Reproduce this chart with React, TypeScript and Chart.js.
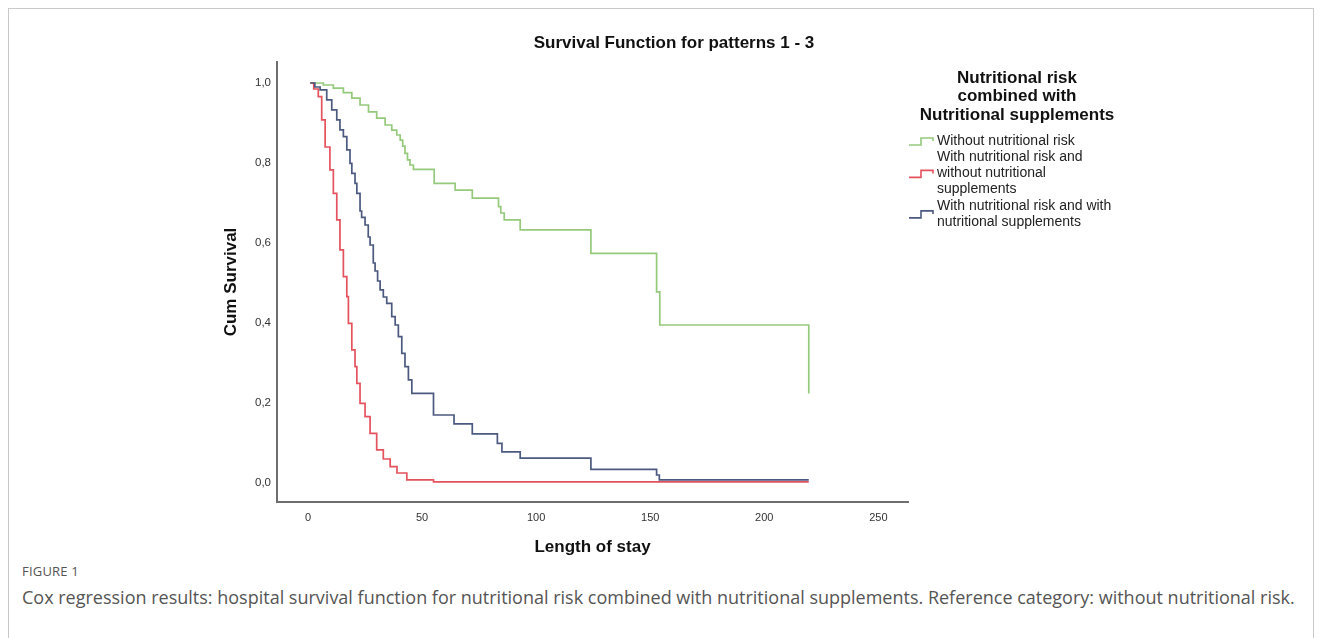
import React, { useEffect, useRef } from 'react';
import { Chart, registerables } from 'chart.js';

Chart.register(...registerables);

// ---------- text ----------
const chartTitle = 'Survival Function for patterns 1 - 3';
const legendTitle = ['Nutritional risk', 'combined with', 'Nutritional supplements'];
const seriesLabels = [
  ['Without nutritional risk'],
  ['With nutritional risk and', 'without nutritional', 'supplements'],
  ['With nutritional risk and with', 'nutritional supplements'],
];
const xAxisTitle = 'Length of stay';
const yAxisTitle = 'Cum Survival';
const figureLabel = 'FIGURE 1';
const captionText =
  'Cox regression results: hospital survival function for nutritional risk combined with nutritional supplements. Reference category: without nutritional risk.';

// ---------- ticks ----------
const xTicks = [0, 50, 100, 150, 200, 250];
const yTicks = [0, 0.2, 0.4, 0.6, 0.8, 1.0];

// ---------- series (time, cumulative survival after the step) ----------
const greenTime = [1, 6.7, 11.1, 15.5, 19.2, 22.8, 26.5, 30.1, 33.8, 36.7, 38.9, 40.4, 41.5, 42.5, 43.6, 44.7, 46.2, 55.3, 64.5, 72, 83.5, 84.5, 86, 93, 124, 152.8, 154.2, 219.5];
const greenSurv = [1, 0.995, 0.987, 0.976, 0.962, 0.945, 0.928, 0.912, 0.895, 0.882, 0.87, 0.857, 0.842, 0.824, 0.808, 0.795, 0.784, 0.749, 0.732, 0.712, 0.691, 0.675, 0.658, 0.633, 0.574, 0.478, 0.395, 0.224];

const redTime = [1, 2.5, 4.5, 6, 7.5, 9.6, 11.1, 12.6, 14, 15.5, 17, 17.7, 19.2, 20.6, 21.4, 22.8, 25, 27.2, 30.1, 33, 36, 39, 43.3, 55, 219.5];
const redSurv = [1, 0.985, 0.966, 0.908, 0.84, 0.783, 0.724, 0.658, 0.583, 0.516, 0.466, 0.399, 0.333, 0.291, 0.249, 0.199, 0.166, 0.124, 0.083, 0.06, 0.041, 0.025, 0.008, 0.003, 0.003];

const blueTime = [1, 3, 5.3, 8.2, 10.4, 12.6, 14, 15.5, 17, 18.4, 19.2, 20.6, 21.4, 22.8, 23.5, 25, 26.4, 27.2, 28.6, 29.4, 30.5, 31.6, 33, 34.5, 36.7, 38.2, 39.6, 41.1, 42.5, 44, 45.5, 55, 64, 72, 83, 85, 93, 124, 152.8, 154, 219.5];
const blueSurv = [1, 0.99, 0.983, 0.958, 0.933, 0.908, 0.883, 0.866, 0.833, 0.799, 0.774, 0.749, 0.724, 0.68, 0.664, 0.645, 0.615, 0.595, 0.55, 0.53, 0.505, 0.483, 0.465, 0.449, 0.416, 0.395, 0.366, 0.324, 0.291, 0.258, 0.224, 0.17, 0.148, 0.123, 0.099, 0.078, 0.062, 0.034, 0.02, 0.008, 0.008];

const seriesColors = ['#95c97c', '#e4525e', '#4c5a80'];

const toPoints = (t: number[], s: number[]) => t.map((x, i) => ({ x, y: s[i] }));

const FONT = '"Liberation Sans", Arial, sans-serif';

const overlayPlugin = {
  id: 'overlay',
  afterDraw(chart: any) {
    const ctx = chart.ctx as CanvasRenderingContext2D;
    ctx.save();
    ctx.fillStyle = '#111';
    ctx.textBaseline = 'middle';
    ctx.textAlign = 'center';
    ctx.font = `bold 17px ${FONT}`;
    ctx.fillText(chartTitle, 674, 43);

    ctx.font = `bold 17px ${FONT}`;
    legendTitle.forEach((t, i) => ctx.fillText(t, 1017, 78 + i * 18.5));

    ctx.textAlign = 'left';
    ctx.font = `14px ${FONT}`;
    ctx.fillStyle = '#222';
    const lh = 16.2;
    let y = 141;
    const symX = 909;
    seriesLabels.forEach((lines, i) => {
      const mid = y + ((lines.length - 1) * lh) / 2;
      ctx.strokeStyle = chart.data.datasets[i].borderColor;
      ctx.lineWidth = 1.6;
      ctx.beginPath();
      ctx.moveTo(symX, mid + 4);
      ctx.lineTo(symX + 12, mid + 4);
      ctx.lineTo(symX + 12, mid - 3);
      ctx.lineTo(symX + 24, mid - 3);
      ctx.lineTo(symX + 24, mid);
      ctx.stroke();
      lines.forEach((l, j) => ctx.fillText(l, symX + 28, y + j * lh));
      y += lines.length * lh;
    });
    ctx.restore();
  },
};

function SurvivalChart() {
  const ref = useRef<HTMLCanvasElement | null>(null);
  useEffect(() => {
    if (!ref.current) return;
    const datasets = [
      { label: seriesLabels[0].join(' '), data: toPoints(greenTime, greenSurv), borderColor: seriesColors[0], order: 2 },
      { label: seriesLabels[1].join(' '), data: toPoints(redTime, redSurv), borderColor: seriesColors[1], order: 1 },
      { label: seriesLabels[2].join(' '), data: toPoints(blueTime, blueSurv), borderColor: seriesColors[2], order: 0 },
    ].map((d) => ({ ...d, stepped: 'before' as const, borderWidth: 1.7, pointRadius: 0, fill: false, tension: 0 }));

    const chart = new Chart(ref.current, {
      type: 'line',
      data: { datasets },
      plugins: [overlayPlugin],
      options: {
        animation: false,
        responsive: false,
        events: [],
        layout: { autoPadding: false, padding: { left: 0, right: 414, top: 62, bottom: 0 } },
        plugins: { legend: { display: false }, title: { display: false }, tooltip: { enabled: false } },
        scales: {
          x: {
            type: 'linear',
            min: -13.6,
            max: 263,
            afterFit: (s: any) => { s.height = 58; },
            afterBuildTicks: (s: any) => { s.ticks = xTicks.map((v) => ({ value: v })); },
            grid: { display: false, drawTicks: false },
            border: { display: true, color: '#6e6e6e', width: 2 },
            ticks: { padding: 9, color: '#333', font: { family: FONT, size: 11 }, maxRotation: 0, autoSkip: false },
            title: { display: true, text: xAxisTitle, color: '#111', font: { family: FONT, size: 17, weight: 'bold' }, padding: { top: 0, bottom: 2.8 } },
          },
          y: {
            type: 'linear',
            min: -0.0475,
            max: 1.0525,
            afterFit: (s: any) => { s.width = 277; },
            afterBuildTicks: (s: any) => { s.ticks = yTicks.map((v) => ({ value: v })); },
            grid: { display: false, drawTicks: false },
            border: { display: true, color: '#6e6e6e', width: 2 },
            ticks: {
              padding: 6,
              color: '#333',
              font: { family: FONT, size: 11.5 },
              callback: (v: any) => Number(v).toFixed(1).replace('.', ','),
            },
            title: { display: true, text: yAxisTitle, color: '#111', font: { family: FONT, size: 17, weight: 'bold' }, padding: { top: 220.8, bottom: 0 } },
          },
        },
      } as any,
    });
    return () => chart.destroy();
  }, []);
  return <canvas ref={ref} width={1322} height={560} style={{ position: 'absolute', left: 0, top: 0, display: 'block' }} />;
}

export default function App() {
  return (
    <div style={{ position: 'absolute', left: 0, top: 0, width: 1322, height: 638, overflow: 'hidden', background: '#fff' }}>
      <div style={{ position: 'absolute', left: 8, top: 8, width: 1304, height: 660, border: '1px solid #c9c9c9' }} />
      <SurvivalChart />
      <div style={{ position: 'absolute', left: 22, top: 562, fontFamily: '"Open Sans", sans-serif', fontSize: 13, color: '#555', letterSpacing: 0.2 }}>
        {figureLabel}
      </div>
      <div style={{ position: 'absolute', left: 22, top: 585, fontFamily: '"Open Sans", sans-serif', fontSize: 18, color: '#555', whiteSpace: 'nowrap' }}>
        {captionText}
      </div>
    </div>
  );
}
